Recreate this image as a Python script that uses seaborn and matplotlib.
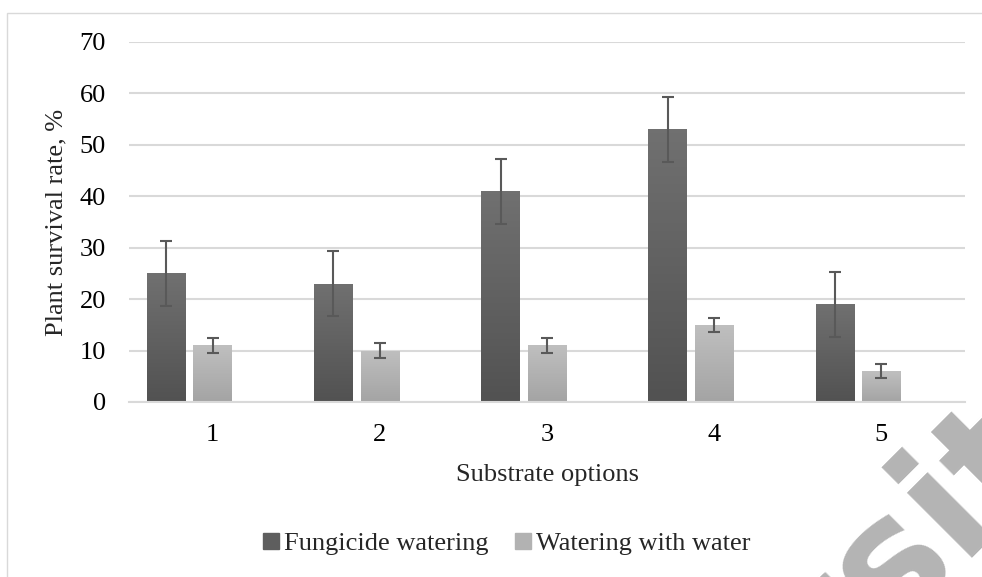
import matplotlib
matplotlib.use('Agg')
import matplotlib.pyplot as plt
import matplotlib.patches as mpatches
import seaborn as sns
import pandas as pd
import numpy as np

# values
options = ['1', '2', '3', '4', '5']
fungicide = [25, 23, 41, 53, 19]
fungicide_err = [6.3, 6.3, 6.3, 6.3, 6.3]
water = [11, 10, 11, 15, 6]
water_err = [1.4, 1.4, 1.4, 1.4, 1.4]
series = ['Fungicide watering', 'Watering with water']
# the source chart keeps an empty third series, so light bars sit on the tick
hue_order = series + ['(empty)']

colors = {'Fungicide watering': '#5e5e5e', 'Watering with water': '#b2b2b2', '(empty)': '#ffffff'}
grads = [('#707070', '#525252'), ('#bfbfbf', '#a4a4a4')]

df = pd.DataFrame({
    'option': options * 2,
    'treatment': [series[0]] * 5 + [series[1]] * 5,
    'value': fungicide + water,
})

sns.set_style('white')
plt.rcParams['font.family'] = ['Liberation Serif', 'DejaVu Serif']

fig = plt.figure(figsize=(9.82, 5.77), dpi=100)
ax = fig.add_axes([129 / 982, 1 - 402 / 577, 836 / 982, 360 / 577])

sns.barplot(data=df, x='option', y='value', hue='treatment', hue_order=hue_order,
            order=options, palette=colors, width=0.834, gap=0.17, errorbar=None,
            linewidth=0, ax=ax, legend=False)

# gradient fill + error bars on the two real series
errs = [fungicide_err, water_err]
for k, cont in enumerate(ax.containers[:2]):
    cmap = matplotlib.colors.LinearSegmentedColormap.from_list('g', [grads[k][1], grads[k][0]])
    for i, bar in enumerate(cont):
        x0, w, h = bar.get_x(), bar.get_width(), bar.get_height()
        im = ax.imshow(np.linspace(0, 1, 64).reshape(-1, 1), cmap=cmap, aspect='auto',
                       origin='lower', extent=[x0, x0 + w, 0, h], zorder=bar.get_zorder())
        im.set_clip_path(bar)
        ax.errorbar(x0 + w / 2, h, yerr=errs[k][i], fmt='none', ecolor='#595959',
                    elinewidth=1.5, capsize=4.3, capthick=1.5, zorder=5)

ax.set_xlim(-0.5, 4.5)
ax.set_ylim(0, 70)
ax.set_yticks(range(0, 71, 10))
ax.yaxis.grid(True, color='#d9d9d9', linewidth=1.5)
ax.set_axisbelow(True)
for s in ['top', 'right', 'left']:
    ax.spines[s].set_visible(False)
ax.spines['bottom'].set_color('#d9d9d9')
ax.spines['bottom'].set_linewidth(1.5)
ax.tick_params(axis='both', length=0, labelsize=19, colors='black')
ax.tick_params(axis='y', pad=16.5)
ax.tick_params(axis='x', pad=16)

ax.set_xlabel('Substrate options', fontsize=19)
ax.set_ylabel('Plant survival rate, %', fontsize=19)
ax.xaxis.set_label_coords(0.5, -0.172)
ax.yaxis.set_label_coords(-0.074, 0.5)

handles = [mpatches.Patch(color=colors[s]) for s in series]
fig.legend(handles, series, loc='center', bbox_to_anchor=(507 / 982, 1 - 544 / 577),
           ncol=2, frameon=False, fontsize=19, handlelength=0.6, handleheight=0.6,
           handletextpad=0.2, columnspacing=1.0, borderaxespad=0)

# chart area border
fig.add_artist(mpatches.Rectangle((7 / 982, -0.1), 1.2, 1.1 - 13 / 577, transform=fig.transFigure,
                                  fill=False, edgecolor='#d9d9d9', linewidth=1))

# publisher watermark, mostly outside the canvas
fig.text(670 / 982, 1 - 860 / 577, 'Versita', rotation=45, rotation_mode='anchor',
         ha='left', va='baseline', fontsize=120, fontweight='semibold', color='#b4b4b4',
         family='DejaVu Sans')

fig.savefig('out.png', dpi=100)
